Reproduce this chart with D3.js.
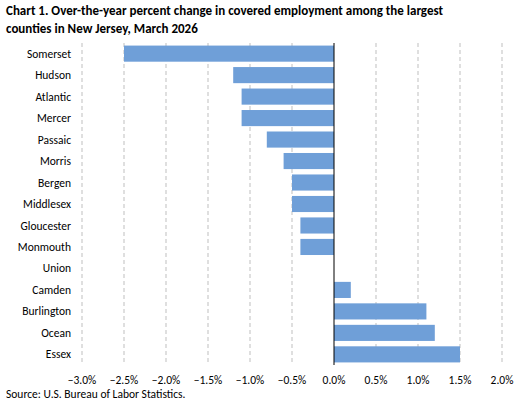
<!DOCTYPE html>
<html><head><meta charset="utf-8">
<script src="https://cdn.jsdelivr.net/npm/d3@7"></script>
<style>body{margin:0;background:#fff;font-family:Calibri,Carlito,"Liberation Sans",Arial,sans-serif}</style>
</head><body><div id="chart"></div>
<script>
const counties = ["Somerset","Hudson","Atlantic","Mercer","Passaic","Morris","Bergen","Middlesex","Gloucester","Monmouth","Union","Camden","Burlington","Ocean","Essex"];
const changes = [-2.5,-1.2,-1.1,-1.1,-0.8,-0.6,-0.5,-0.5,-0.4,-0.4,0,0.2,1.1,1.2,1.5];
const ticks = [-3,-2.5,-2,-1.5,-1,-0.5,0,0.5,1,1.5,2];

const W = 525, H = 403;
const m = {top: 43, right: 23, bottom: 38, left: 82};
const svg = d3.select("#chart").append("svg").attr("width", W).attr("height", H);

svg.append("text").attr("x", 6).attr("y", 15).attr("font-weight", "bold").attr("font-size", 13)
  .text("Chart 1. Over-the-year percent change in covered employment among the largest");
svg.append("text").attr("x", 6).attr("y", 33).attr("font-weight", "bold").attr("font-size", 13)
  .text("counties in New Jersey, March 2026");

const x = d3.scaleLinear().domain([-3, 2]).range([m.left, W - m.right]);
const y = d3.scaleBand().domain(counties).range([m.top, H - m.bottom]).paddingInner(0.25).paddingOuter(0.12);

svg.append("g").selectAll("line").data(ticks.filter(t => t !== 0)).join("line")
  .attr("x1", d => x(d)).attr("x2", d => x(d))
  .attr("y1", m.top).attr("y2", H - m.bottom)
  .attr("stroke", "#bfbfbf").attr("stroke-dasharray", "4,3");

svg.append("g").selectAll("rect").data(counties).join("rect")
  .attr("x", (d, i) => x(Math.min(0, changes[i])))
  .attr("width", (d, i) => Math.abs(x(changes[i]) - x(0)))
  .attr("y", d => y(d)).attr("height", y.bandwidth())
  .attr("fill", "#6f9fd8");

svg.append("line").attr("x1", x(0)).attr("x2", x(0)).attr("y1", m.top).attr("y2", H - m.bottom)
  .attr("stroke", "#000");

svg.append("g").selectAll("text").data(counties).join("text")
  .attr("x", 71).attr("y", d => y(d) + y.bandwidth() / 2).attr("dy", "0.35em")
  .attr("text-anchor", "end").attr("font-size", 11.5).text(d => d);

svg.append("g").selectAll("text").data(ticks).join("text")
  .attr("x", d => x(d)).attr("y", H - m.bottom + 19)
  .attr("text-anchor", "middle").attr("font-size", 11.5).text(d => d3.format(".1f")(d) + "%");

svg.append("text").attr("x", 6).attr("y", H - 5).attr("font-size", 11.5)
  .text("Source: U.S. Bureau of Labor Statistics.");
</script></body></html>
